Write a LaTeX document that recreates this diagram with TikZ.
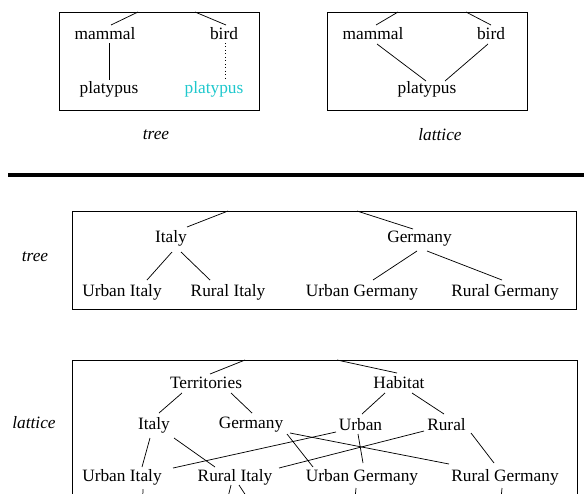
\documentclass[tikz,border=0pt]{standalone}
\usepackage{fontspec}
\setmainfont{Liberation Serif}
\usetikzlibrary{calc}
\definecolor{platcyan}{RGB}{30,200,205}
\begin{document}
\begin{tikzpicture}[x=0.75pt,y=-0.75pt,
  lbl/.style={inner sep=0pt, font=\fontsize{13}{15}\selectfont},
  captxt/.style={inner sep=0pt, font=\fontsize{13}{15}\selectfont\itshape},
  frame/.style={draw=black, line width=0.6pt},
  edge/.style={draw=black, line width=0.55pt},
  dotedge/.style={draw=black, line width=0.6pt, dotted}]
\useasboundingbox (0,0) rectangle (584,493);
\clip (0,0) rectangle (584,493);
\fill[white] (0,0) rectangle (584,493);

% ---------- top left: tree ----------
\draw[frame] (59,12) rectangle (259,110);
\node[lbl] (m1) at (105,34) {mammal};
\node[lbl] (b1) at (224,34) {bird};
\node[lbl] (p1) at (109,89) {platypus};
\node[lbl, text=platcyan] (p1c) at (214,89) {platypus};
\node[captxt] (captree1) at (156,135) {tree};
\coordinate (t1a) at (138,12);
\coordinate (t1b) at (195,12);
\draw[edge] (t1a) -- ($(m1)+(6,-9)$);
\draw[edge] (t1b) -- ($(b1)+(2,-9)$);
\draw[edge] ($(m1)+(4,9)$) -- ($(p1)+(0,-9)$);
\draw[dotedge] ($(b1)+(1,9)$) -- ($(p1c)+(11,-9)$);

% ---------- top right: lattice ----------
\draw[frame] (327,12) rectangle (527,110);
\node[lbl] (m2) at (373,34) {mammal};
\node[lbl] (b2) at (491,34) {bird};
\node[lbl] (p2) at (427,89) {platypus};
\node[captxt] (caplat1) at (440,135) {lattice};
\coordinate (t2a) at (398,12);
\coordinate (t2b) at (466,12);
\draw[edge] (t2a) -- ($(m2)+(3,-9)$);
\draw[edge] (t2b) -- ($(b2)+(0,-9)$);
\draw[edge] ($(m2)+(4,10)$) -- ($(p2)+(-1,-8)$);
\draw[edge] ($(b2)+(-3,10)$) -- ($(p2)+(18,-8)$);

% ---------- rule ----------
\coordinate (r1) at (8,175);
\coordinate (r2) at (590,175);
\draw[black, line width=3pt] (r1) -- (r2);

% ---------- middle: tree ----------
\node[captxt] (captree2) at (35,257) {tree};
\draw[frame] (72,211) rectangle (576,309);
\node[lbl] (it) at (171,238) {Italy};
\node[lbl] (ge) at (419.5,239) {Germany};
\node[lbl] (uit) at (122,292) {Urban Italy};
\node[lbl] (rit) at (228,292) {Rural Italy};
\node[lbl] (uge) at (362,292) {Urban Germany};
\node[lbl] (rge) at (505,292) {Rural Germany};
\coordinate (t3a) at (228,211);
\coordinate (t3b) at (357,211);
\draw[edge] (t3a) -- ($(it)+(16,-11)$);
\draw[edge] (t3b) -- ($(ge)+(-6.5,-10)$);
\draw[edge] ($(it)+(1,14)$) -- ($(uit)+(25,-12)$);
\draw[edge] ($(it)+(10,14)$) -- ($(rit)+(-18,-12)$);
\draw[edge] ($(ge)+(-2.5,12)$) -- ($(uge)+(11,-12)$);
\draw[edge] ($(ge)+(7.5,12)$) -- ($(rge)+(-3,-12)$);

% ---------- bottom: lattice ----------
\node[captxt] (caplat2) at (34,423) {lattice};
\draw[frame] (72,520) -- (72,360) -- (577,360) -- (577,520);
\node[lbl] (ter) at (206,383) {Territories};
\node[lbl] (hab) at (399,383) {Habitat};
\node[lbl] (lit) at (154,425) {Italy};
\node[lbl] (lge) at (251,425) {Germany};
\node[lbl] (lur) at (360.5,425) {Urban};
\node[lbl] (lru) at (446.5,425) {Rural};
\node[lbl] (luit) at (122,477) {Urban Italy};
\node[lbl] (lrit) at (235,477) {Rural Italy};
\node[lbl] (luge) at (362,477) {Urban Germany};
\node[lbl] (lrge) at (505,477) {Rural Germany};
\coordinate (t4a) at (245,360);
\coordinate (t4b) at (337,360);
\draw[edge] (t4a) -- ($(ter)+(4,-9)$);
\draw[edge] (t4b) -- ($(hab)+(-2,-10)$);
\draw[edge] ($(ter)+(-24,10)$) -- ($(lit)+(5,-12)$);
\draw[edge] ($(ter)+(25,10)$) -- ($(lge)+(1,-12)$);
\draw[edge] ($(hab)+(-14,10)$) -- ($(lur)+(1.5,-11)$);
\draw[edge] ($(hab)+(13,10)$) -- ($(lru)+(-2.5,-11)$);
\draw[edge] ($(lit)+(-4,13)$) -- ($(luit)+(20,-10)$);
\draw[edge] ($(lit)+(20,13)$) -- ($(lrit)+(-20,-10)$);
\draw[edge] ($(lge)+(36,9)$) -- ($(luge)+(-49,-10)$);
\draw[edge] ($(lge)+(39,8)$) -- ($(lrge)+(-56,-13)$);
\draw[edge] ($(lur)+(-24.5,7)$) -- ($(luit)+(51,-9)$);
\draw[edge] ($(lru)+(-22.5,6)$) -- ($(lrit)+(44,-9)$);
\draw[edge] ($(lur)+(-2.5,9)$) -- ($(luge)+(1,-14)$);
\draw[edge] ($(lru)+(24.5,8)$) -- ($(lrge)+(-11,-14)$);
% edges continuing below the visible part
\coordinate (d1) at (142.5,505);
\coordinate (d2) at (226,505);
\coordinate (d3) at (252,505);
\coordinate (d4) at (354.5,505);
\coordinate (d5) at (500.5,505);
\draw[edge] ($(luit)+(21,12)$) -- (d1);
\draw[edge] ($(lrit)+(-4,8)$) -- (d2);
\draw[edge] ($(lrit)+(4,8)$) -- (d3);
\draw[edge] ($(luge)+(-6,11)$) -- (d4);
\draw[edge] ($(lrge)+(-3,11)$) -- (d5);
\end{tikzpicture}
\end{document}
